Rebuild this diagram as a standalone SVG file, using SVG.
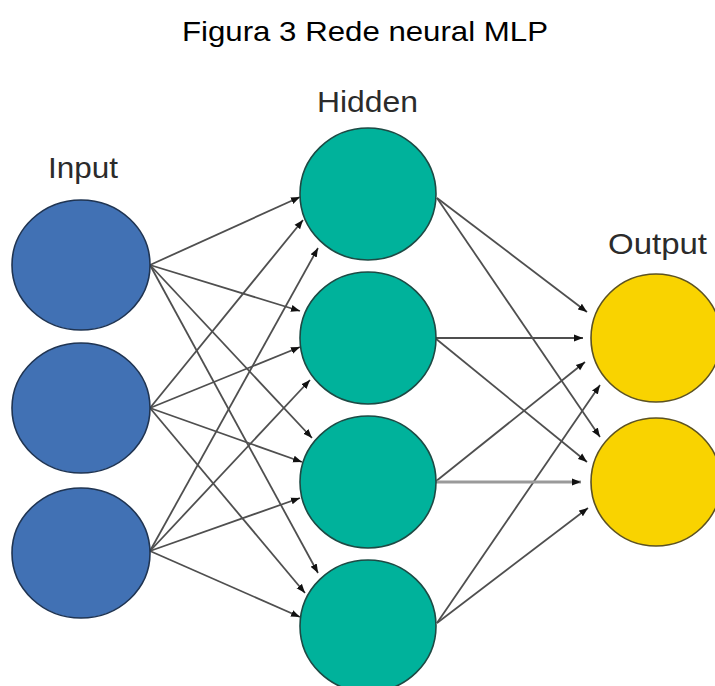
<svg xmlns="http://www.w3.org/2000/svg" width="715" height="686" viewBox="0 0 715 686">
  <defs>
    <marker id="arrow" markerUnits="userSpaceOnUse" markerWidth="10" markerHeight="8" refX="9" refY="4" orient="auto">
      <path d="M0,0.5 L9,4 L0,7.5 Z" fill="#111"/>
    </marker>
  </defs>
  <style>
    .title { font-family: "Liberation Sans", Arial, sans-serif; font-size: 28px; fill: #000; }
    .label { font-family: "Liberation Sans", Arial, sans-serif; font-size: 29px; fill: #2b2b2b; }
    .edge { stroke: #4f4f4f; stroke-width: 1.8; fill: none; marker-end: url(#arrow); }
    .edge-wide { stroke: #9a9a9a; stroke-width: 3; fill: none; marker-end: url(#arrow); }
    .input { fill: #4171b4; stroke: #1f3452; stroke-width: 1.6; }
    .hidden { fill: #00b29b; stroke: #1d4a44; stroke-width: 1.6; }
    .output { fill: #f9d300; stroke: #5c5222; stroke-width: 1.6; }
  </style>

  <rect width="715" height="686" fill="#fff"/>

  <text class="title" x="182" y="41" textLength="366" lengthAdjust="spacingAndGlyphs">Figura 3 Rede neural MLP</text>

  <!-- layer labels -->
  <text class="label" x="48" y="178" textLength="70" lengthAdjust="spacingAndGlyphs">Input</text>
  <text class="label" x="317" y="112" textLength="101" lengthAdjust="spacingAndGlyphs">Hidden</text>
  <text class="label" x="608" y="254" textLength="99" lengthAdjust="spacingAndGlyphs">Output</text>

  <!-- connectors -->
  <g id="connectors">
    <!-- input 1 -> hidden -->
    <line class="edge" x1="150" y1="265" x2="300" y2="197"/>
    <line class="edge" x1="150" y1="265" x2="300" y2="311"/>
    <line class="edge" x1="150" y1="265" x2="312" y2="438"/>
    <line class="edge" x1="150" y1="265" x2="318" y2="573"/>
    <!-- input 2 -> hidden -->
    <line class="edge" x1="150" y1="408" x2="303" y2="220"/>
    <line class="edge" x1="150" y1="408" x2="300" y2="347"/>
    <line class="edge" x1="150" y1="408" x2="302" y2="462"/>
    <line class="edge" x1="150" y1="408" x2="305" y2="593"/>
    <!-- input 3 -> hidden -->
    <line class="edge" x1="150" y1="551" x2="318" y2="248"/>
    <line class="edge" x1="150" y1="551" x2="310" y2="380"/>
    <line class="edge" x1="150" y1="551" x2="300" y2="498"/>
    <line class="edge" x1="150" y1="551" x2="300" y2="617"/>
    <!-- hidden -> output 1 -->
    <line class="edge" x1="437" y1="198" x2="587" y2="312"/>
    <line class="edge" x1="435" y1="338" x2="583" y2="338"/>
    <line class="edge" x1="435" y1="482" x2="585" y2="362"/>
    <line class="edge" x1="437" y1="623" x2="600" y2="385"/>
    <!-- hidden -> output 2 -->
    <line class="edge" x1="437" y1="198" x2="600" y2="437"/>
    <line class="edge" x1="435" y1="338" x2="587" y2="462"/>
    <line class="edge-wide" x1="435" y1="482" x2="581" y2="482"/>
    <line class="edge" x1="437" y1="623" x2="588" y2="508"/>
  </g>

  <!-- input layer -->
  <g id="input-1"><ellipse class="input" cx="81" cy="265" rx="69" ry="65"/></g>
  <g id="input-2"><ellipse class="input" cx="81" cy="408" rx="69" ry="65"/></g>
  <g id="input-3"><ellipse class="input" cx="81" cy="553" rx="69" ry="65"/></g>

  <!-- hidden layer -->
  <g id="hidden-1"><ellipse class="hidden" cx="368" cy="194" rx="68" ry="66"/></g>
  <g id="hidden-2"><ellipse class="hidden" cx="368" cy="338" rx="68" ry="66"/></g>
  <g id="hidden-3"><ellipse class="hidden" cx="368" cy="482" rx="68" ry="66"/></g>
  <g id="hidden-4"><ellipse class="hidden" cx="368" cy="626" rx="68" ry="66"/></g>

  <!-- output layer -->
  <g id="output-1"><ellipse class="output" cx="656" cy="338" rx="65" ry="64"/></g>
  <g id="output-2"><ellipse class="output" cx="656" cy="482" rx="65" ry="64"/></g>
</svg>
